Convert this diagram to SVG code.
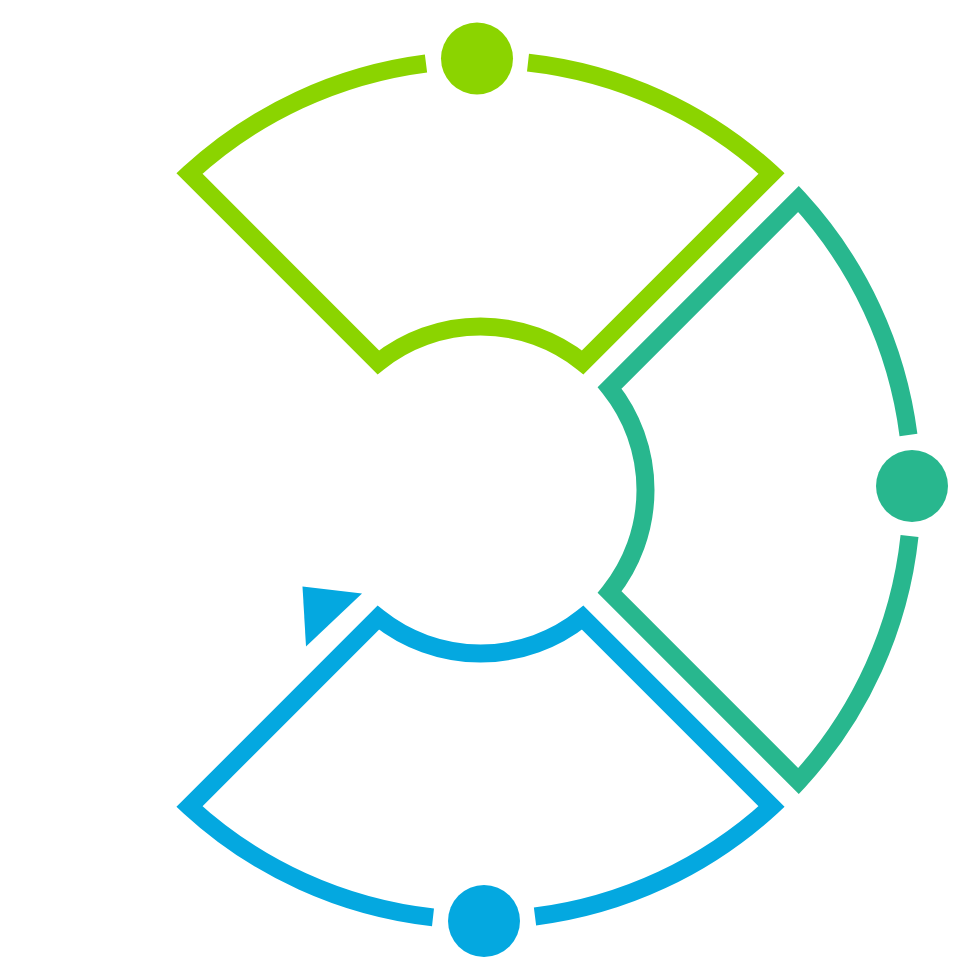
<svg xmlns="http://www.w3.org/2000/svg" width="980" height="980" viewBox="0 0 980 980">
  <style>
    .seg { fill: none; stroke-width: 18; stroke-linejoin: miter; stroke-linecap: butt; }
    .green { stroke: #8BD400; }
    .teal { stroke: #28B78E; }
    .blue { stroke: #04A8E0; }
    .gdot { fill: #8BD400; }
    .tdot { fill: #28B78E; }
    .bdot { fill: #04A8E0; }
  </style>
  <rect width="980" height="980" fill="#FFFFFF"/>
  <g id="sector-top">
    <path class="seg green" d="M528,62.63 A430,430 0 0 1 771.56,173.48 L582.68,362.36 A163.5,163.5 0 0 0 378.32,362.36 L189.44,173.48 A430,430 0 0 1 426,63.47"/>
    <circle class="gdot" cx="477" cy="58.5" r="36"/>
  </g>
  <g id="sector-right" transform="translate(1.5,0)">
    <path class="seg teal" d="M908.03,536 A430,430 0 0 1 797.02,781.06 L608.14,592.18 A163.5,163.5 0 0 0 608.14,387.82 L797.02,198.94 A430,430 0 0 1 906.97,435"/>
    <circle class="tdot" cx="910.5" cy="486" r="36"/>
  </g>
  <g id="sector-bottom">
    <path class="seg blue" d="M433,917.37 A430,430 0 0 1 189.44,806.52 L378.32,617.64 A163.5,163.5 0 0 0 582.68,617.64 L771.56,806.52 A430,430 0 0 1 535,916.53"/>
    <circle class="bdot" cx="484" cy="921" r="36"/>
  </g>
  <g id="connectors">
    <polygon points="302.5,586.5 362,593.5 306,646.5" fill="#04A8E0"/>
  </g>
</svg>
